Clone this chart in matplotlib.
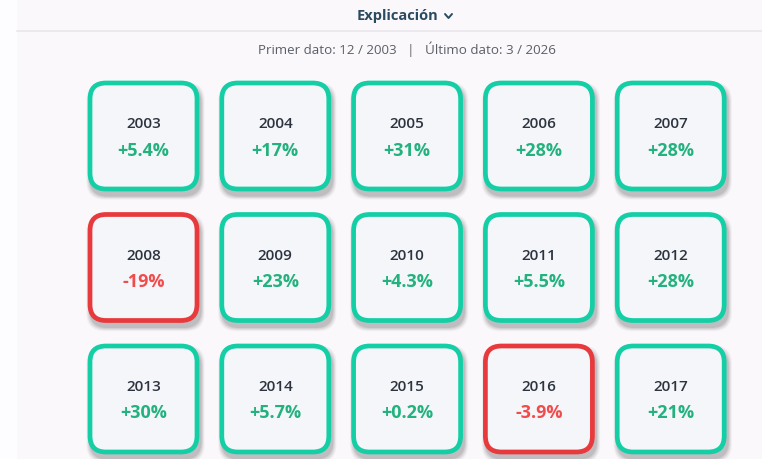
import matplotlib.pyplot as plt
from matplotlib.patches import FancyBboxPatch, Rectangle
import numpy as np

# Rentabilidad anual por año
years = [2003, 2004, 2005, 2006, 2007,
         2008, 2009, 2010, 2011, 2012,
         2013, 2014, 2015, 2016, 2017]
returns = [5.4, 17, 31, 28, 28,
           -19, 23, 4.3, 5.5, 28,
           30, 5.7, 0.2, -3.9, 21]
labels = ["+5.4%", "+17%", "+31%", "+28%", "+28%",
          "-19%", "+23%", "+4.3%", "+5.5%", "+28%",
          "+30%", "+5.7%", "+0.2%", "-3.9%", "+21%"]

title = "Explicación"
subtitle = "Primer dato: 12 / 2003   |   Último dato: 3 / 2026"

plt.rcParams['font.family'] = ['Open Sans', 'DejaVu Sans']

fig = plt.figure(figsize=(7.62, 4.59), dpi=100)
fig.patch.set_facecolor("#fdfcfe")
ax = fig.add_axes([0, 0, 1, 1])
ax.set_xlim(0, 762)
ax.set_ylim(459, 0)
ax.axis("off")

# panel background + header separator
ax.add_patch(Rectangle((17, 0), 745, 459, facecolor="#fbf8fc", edgecolor="none"))
ax.plot([17, 762], [31, 31], color="#e9e7ec", lw=1.2)

ax.text(398, 16, title, ha="center", va="center", fontsize=10.5,
        fontweight="bold", color="#2b4a60")
ax.plot([445, 448.5, 452], [14, 18, 14], color="#2b4a60", lw=1.4,
        solid_capstyle="round")
ax.text(407, 49, subtitle, ha="center", va="center", fontsize=9.6,
        color="#5a5f66")

ncols = 5
x0, y0 = 88, 81
step_x, step_y = 131.8, 131.5
w, h = 111, 110

for i, (yr, val, lab) in enumerate(zip(years, returns, labels)):
    r, c = divmod(i, ncols)
    x = x0 + c * step_x
    y = y0 + r * step_y
    pos = val >= 0
    edge = "#14cfa6" if pos else "#e8393c"
    txt = "#23b27e" if pos else "#f24b4b"
    # soft shadow
    for k, a in enumerate([0.07, 0.06, 0.05, 0.04, 0.03]):
        s = 1 + k * 1.6
        ax.add_patch(FancyBboxPatch((x + 2 - s / 2, y + 5 - s / 2), w + s, h + s,
                                    boxstyle="round,pad=0,rounding_size=18",
                                    facecolor="black", edgecolor="none", alpha=a))
    ax.add_patch(FancyBboxPatch((x + 2, y + 2), w - 4, h - 4,
                                boxstyle="round,pad=0,rounding_size=16",
                                facecolor="#f5f6fa", edgecolor=edge, lw=3.4))
    cx = x + w / 2
    cy = y + h / 2
    ax.text(cx, cy - 12, str(yr), ha="center", va="center", fontsize=11,
            color="#2d3440", fontweight="semibold")
    ax.text(cx, cy + 14.5, lab, ha="center", va="center", fontsize=13,
            color=txt, fontweight="bold")

fig.savefig("out.png", dpi=100, facecolor=fig.get_facecolor())
